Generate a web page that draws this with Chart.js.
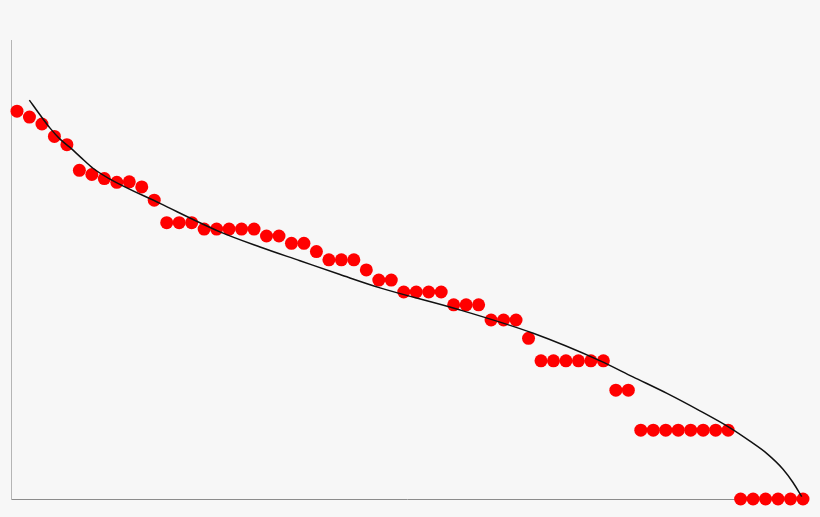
<!DOCTYPE html>
<html>
<head>
<meta charset="utf-8">
<script src="https://cdn.jsdelivr.net/npm/chart.js@4"></script>
<style>
    html, body { margin: 0; padding: 0; background: #f7f7f7; }
    #wrap { width: 820px; height: 517px; }
</style>
</head>
<body>
<div id="wrap"><canvas id="rankChart"></canvas></div>
<script>
// Observed points (rank on x, value on y)
const dotRank = [
    1, 2, 3, 4, 5, 6, 7, 8, 9, 10, 11, 12, 13, 14, 15, 16,
    17, 18, 19, 20, 21, 22, 23, 24, 25, 26, 27, 28, 29, 30, 31, 32,
    33, 34, 35, 36, 37, 38, 39, 40, 41, 42, 43, 44, 45, 46, 47, 48,
    49, 50, 51, 52, 53, 54, 55, 56, 57, 58, 59, 60, 61, 62, 63, 64
];
const dotValue = [
    84.5, 83.2, 81.7, 79.0, 77.2, 71.6, 70.7, 69.8, 69.0, 69.1, 68.0, 65.1,
    60.2, 60.2, 60.2, 58.8, 58.8, 58.8, 58.8, 58.8, 57.3, 57.3, 55.7, 55.7,
    53.9, 52.1, 52.1, 52.1, 49.9, 47.7, 47.7, 45.1, 45.1, 45.1, 45.1, 42.3,
    42.3, 42.3, 39.0, 39.0, 39.0, 35.0, 30.1, 30.1, 30.1, 30.1, 30.1, 30.1,
    23.7, 23.7, 15.0, 15.0, 15.0, 15.0, 15.0, 15.0, 15.0, 15.0,
    0, 0, 0, 0, 0, 0
];

// Fitted curve
const curveRank = [
    1.99, 2.84, 3.65, 4.45, 5.25, 6.05, 7.12, 8.45, 12.46, 17.27, 20.48, 23.68,
    26.89, 30.1, 36.24, 42.38, 47.75, 50.37, 53.1, 55.74, 58.15, 59.75, 61.11,
    62.4, 63.2, 63.9
];
const curveValue = [
    86.9, 83.7, 80.8, 78.4, 76.6, 74.6, 72.0, 69.7, 64.4, 58.2, 54.9, 51.9,
    48.9, 46.0, 41.4, 36.1, 30.1, 26.6, 23.0, 19.2, 15.5, 12.6, 9.9,
    6.5, 3.6, 0.5
];

function toPoints(xs, ys) {
    return xs.map((x, i) => ({ x: x, y: ys[i] }));
}

new Chart(document.getElementById('rankChart').getContext('2d'), {
    type: 'scatter',
    data: {
        datasets: [
            {
                label: 'Fit',
                type: 'line',
                data: toPoints(curveRank, curveValue),
                borderColor: '#111111',
                borderWidth: 1.5,
                pointRadius: 0,
                fill: false,
                cubicInterpolationMode: 'monotone',
                order: 0
            },
            {
                label: 'Observed',
                data: toPoints(dotRank, dotValue),
                backgroundColor: '#ff0000',
                borderWidth: 0,
                pointRadius: 6.5,
                pointHoverRadius: 6.5,
                clip: false,
                order: 1
            }
        ]
    },
    options: {
        responsive: true,
        maintainAspectRatio: false,
        animation: false,
        layout: {
            padding: { left: 11, top: 40, right: 17, bottom: 18 }
        },
        plugins: {
            legend: { display: false },
            tooltip: { enabled: false }
        },
        scales: {
            x: {
                type: 'linear',
                min: 0.52,
                max: 64,
                grid: { display: false },
                ticks: { display: false },
                border: { display: true, color: '#8c8c8c', width: 1 },
                afterFit: scale => { scale.height = 0; }
            },
            y: {
                min: 0,
                max: 100,
                grid: { display: false },
                ticks: { display: false },
                border: { display: true, color: '#b5b5b5', width: 1 },
                afterFit: scale => { scale.width = 0; }
            }
        }
    }
});
</script>
</body>
</html>
